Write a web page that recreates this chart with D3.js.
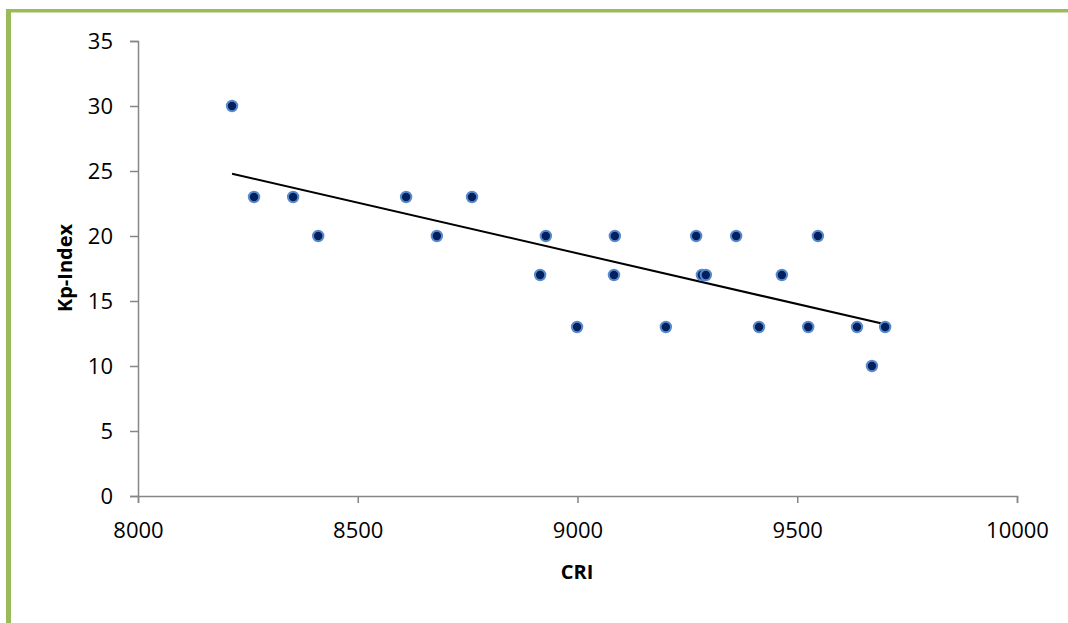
<!DOCTYPE html>
<html>
<head>
<meta charset="utf-8">
<script src="https://cdn.jsdelivr.net/npm/d3@7"></script>
<style>
  body { margin: 0; background: #fff; }
  svg { display: block; font-family: "Open Sans", sans-serif; }
  .axis path, .axis line { stroke: #868686; stroke-width: 1.5; }
  .axis text { font-family: "Open Sans", sans-serif; font-size: 22px; fill: #000; }
</style>
</head>
<body>
<div id="chart"></div>
<script>
var svgWidth = 1068;
var svgHeight = 623;

// values
var cri = [8214, 8264, 8353, 8410, 8610, 8680, 8760, 8915, 8928, 8999, 9083, 9085,
           9201, 9270, 9283, 9292, 9361, 9413, 9465, 9525, 9547, 9636, 9670, 9700];
var kp  = [30, 23, 23, 20, 23, 20, 23, 17, 20, 13, 17, 20,
           13, 20, 17, 17, 20, 13, 17, 13, 20, 13, 10, 13];
var xTicks = [8000, 8500, 9000, 9500, 10000];
var yTicks = [0, 5, 10, 15, 20, 25, 30, 35];

var margin = { top: 41, right: 51, bottom: 127, left: 138 };
var width = svgWidth - margin.left - margin.right;
var height = svgHeight - margin.top - margin.bottom;

var svg = d3.select("#chart")
  .append("svg")
  .attr("width", svgWidth)
  .attr("height", svgHeight);

// green frame on top and left
svg.append("rect").attr("x", 6).attr("y", 9).attr("width", svgWidth - 6).attr("height", 3.5).attr("fill", "#9BBB59");
svg.append("rect").attr("x", 6).attr("y", 9).attr("width", 5).attr("height", svgHeight - 9).attr("fill", "#9BBB59");

var chart = svg.append("g")
  .attr("transform", `translate(${margin.left}, ${margin.top})`);

var x = d3.scaleLinear().domain([8000, 10000]).range([0, width]);
var y = d3.scaleLinear().domain([0, 35]).range([height, 0]);

chart.append("g")
  .attr("class", "axis")
  .attr("transform", `translate(0, ${height})`)
  .call(d3.axisBottom(x).tickValues(xTicks).tickSize(7).tickPadding(19).tickSizeOuter(7).tickFormat(d3.format("d")));

chart.append("g")
  .attr("class", "axis")
  .call(d3.axisLeft(y).tickValues(yTicks).tickSize(8).tickPadding(17).tickSizeOuter(8));

// linear trend line (least squares)
var n = cri.length;
var mx = d3.mean(cri), my = d3.mean(kp);
var sxy = 0, sxx = 0;
for (var i = 0; i < n; i++) {
  sxy += (cri[i] - mx) * (kp[i] - my);
  sxx += (cri[i] - mx) * (cri[i] - mx);
}
var slope = sxy / sxx;
var icpt = my - slope * mx;
var x0 = d3.min(cri), x1 = d3.max(cri);

chart.append("line")
  .attr("x1", x(x0)).attr("y1", y(icpt + slope * x0))
  .attr("x2", x(x1)).attr("y2", y(icpt + slope * x1))
  .attr("stroke", "#000")
  .attr("stroke-width", 2);

chart.append("g")
  .selectAll("circle")
  .data(d3.range(n))
  .enter()
  .append("circle")
  .attr("cx", function(i) { return x(cri[i]); })
  .attr("cy", function(i) { return y(kp[i]); })
  .attr("r", 5.2)
  .attr("fill", "#002060")
  .attr("stroke", "#5A8ACB")
  .attr("stroke-width", 2);

// axis titles
svg.append("text")
  .attr("x", 577)
  .attr("y", 579)
  .attr("text-anchor", "middle")
  .style("font-size", "20px")
  .style("font-weight", "bold")
  .text("CRI");

svg.append("text")
  .attr("transform", "translate(72, 268) rotate(-90)")
  .attr("text-anchor", "middle")
  .style("font-size", "20px")
  .style("font-weight", "bold")
  .text("Kp-Index");
</script>
</body>
</html>
